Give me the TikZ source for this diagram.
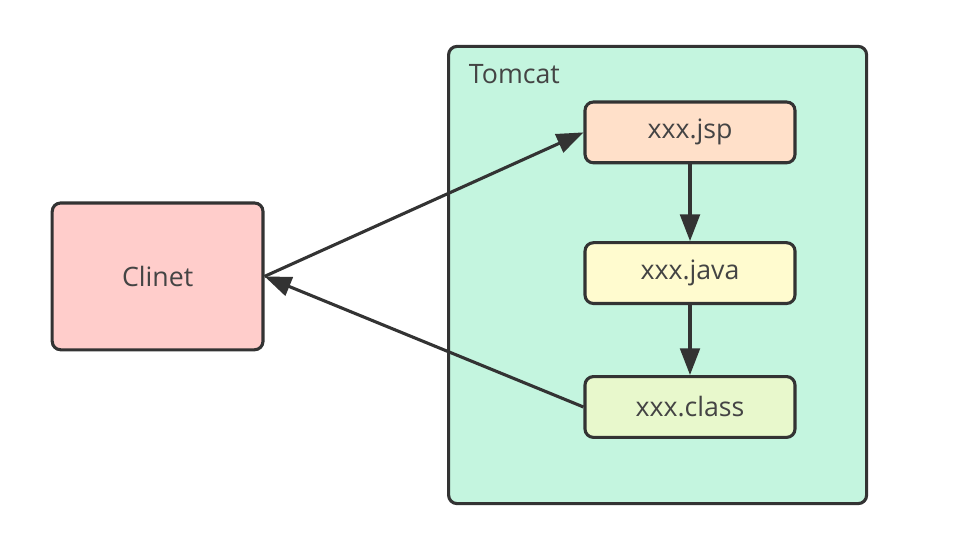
\documentclass[tikz,border=0pt]{standalone}
\usepackage{fontspec}
\setmainfont{Open Sans}
\definecolor{tcMint}{HTML}{C4F5DF}
\definecolor{tcRose}{HTML}{FFCDCB}
\definecolor{tcPeach}{HTML}{FFE0C9}
\definecolor{tcCream}{HTML}{FFFBCF}
\definecolor{tcLime}{HTML}{E8F8CC}
\definecolor{tcEdge}{HTML}{333333}
\definecolor{tcText}{HTML}{444444}
\usetikzlibrary{positioning,arrows.meta}

\begin{document}
\begin{tikzpicture}[
    box/.style={draw=tcEdge, line width=2.2pt, rounded corners=6pt, text=tcText,
      font=\fontsize{19}{23}\selectfont},
    filebox/.style={box, minimum width=5.25cm, minimum height=1.52cm},
    flow/.style={draw=tcEdge, line width=2.2pt, -{Triangle[length=19pt,width=14pt]}}
  ]
  \useasboundingbox (0,0) rectangle (24.3,-13.375);
  % container and client
  \node[box, fill=tcMint, minimum width=10.45cm, minimum height=11.43cm] (tomcat) at (16.44,-6.875) {};
  \node[anchor=west, text=tcText, font=\fontsize{19}{23}\selectfont] (tomcatlabel) at (11.6,-1.85) {Tomcat};
  \node[box, fill=tcRose, minimum width=5.27cm, minimum height=3.67cm] (client) at (3.94,-6.91) {Clinet};
  % compile chain
  \node[filebox, fill=tcPeach] (jsp) at (17.25,-3.31) {xxx.jsp};
  \node[filebox, fill=tcCream, below=1.92cm of jsp] (java) {xxx.java};
  \node[filebox, fill=tcLime, below=1.75cm of java] (class) {xxx.class};
  % arrows
  \draw[flow] (client.east) -- (jsp.west);
  \draw[flow] (jsp) -- (java);
  \draw[flow] (java) -- (class);
  \draw[flow] (class.west) -- (client.east);
\end{tikzpicture}
\end{document}
